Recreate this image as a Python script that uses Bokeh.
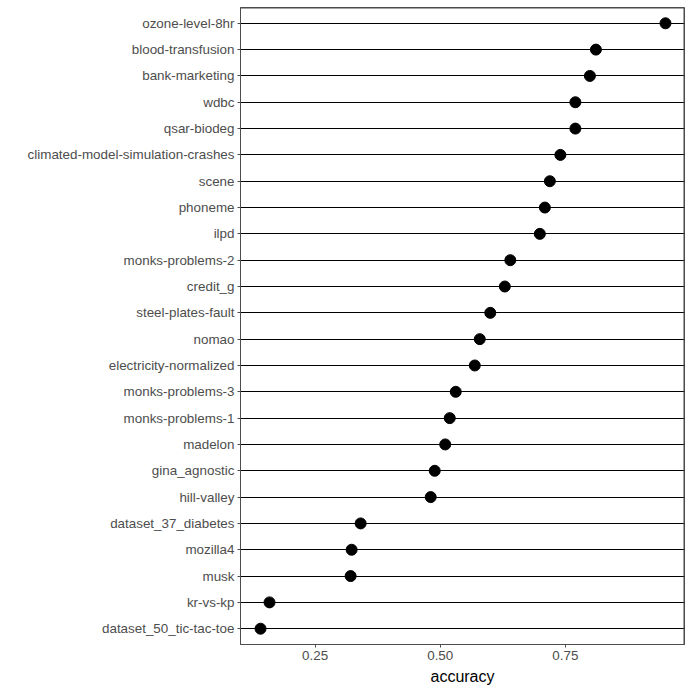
from bokeh.plotting import figure
from bokeh.models import FactorRange, Range1d, FixedTicker
from bokeh.embed import file_html
from bokeh.resources import INLINE

datasets = [
    "ozone-level-8hr", "blood-transfusion", "bank-marketing", "wdbc", "qsar-biodeg",
    "climated-model-simulation-crashes", "scene", "phoneme", "ilpd", "monks-problems-2",
    "credit_g", "steel-plates-fault", "nomao", "electricity-normalized", "monks-problems-3",
    "monks-problems-1", "madelon", "gina_agnostic", "hill-valley", "dataset_37_diabetes",
    "mozilla4", "musk", "kr-vs-kp", "dataset_50_tic-tac-toe",
]
accuracy = [
    0.950, 0.811, 0.799, 0.770, 0.770,
    0.740, 0.719, 0.709, 0.699, 0.640,
    0.629, 0.600, 0.579, 0.569, 0.531,
    0.519, 0.510, 0.489, 0.481, 0.341,
    0.323, 0.321, 0.159, 0.141,
]
x_ticks = [0.25, 0.50, 0.75]
x_tick_labels = ["0.25", "0.50", "0.75"]

factors = list(reversed(datasets))
n = len(factors)

xmin = min(accuracy) - 0.04
xmax = max(accuracy) + 0.038
pad = 0.2  # total categorical padding (synthetic units)

BORDER = "#4d4d4d"

p = figure(
    width=692, height=692,
    y_range=FactorRange(factors=factors, range_padding=pad / n),
    x_range=Range1d(xmin, xmax),
    output_backend="svg", toolbar_location=None,
    min_border_left=240, min_border_right=8, min_border_top=7, min_border_bottom=48,
)
p.background_fill_color = "white"
p.border_fill_color = "white"
p.outline_line_color = BORDER
p.outline_line_width = 1

p.xgrid.grid_line_color = None
p.ygrid.grid_line_color = "black"
p.ygrid.grid_line_width = 1

# top and right panel border, drawn at the ranges' far edges (nudged half a pixel inward)
y_bottom = -pad / 2
y_top = n + pad / 2
x_edge = xmax - 0.001
y_edge = y_top - 0.02
p.segment(x0=[x_edge, xmin], y0=[y_bottom, y_edge],
          x1=[x_edge, xmax], y1=[y_top, y_edge],
          line_color=BORDER, line_width=1)

p.scatter(x=accuracy, y=datasets, size=11, color="black")

p.xaxis.ticker = FixedTicker(ticks=x_ticks)
p.xaxis.major_label_overrides = {t: l for t, l in zip(x_ticks, x_tick_labels)}
p.xaxis.axis_label = "accuracy"
p.xaxis.axis_label_text_font = "Liberation Sans"
p.xaxis.axis_label_text_font_style = "normal"
p.xaxis.axis_label_text_font_size = "16px"
p.xaxis.axis_label_text_color = "black"
p.xaxis.axis_label_standoff = 5

for ax in (p.xaxis, p.yaxis):
    ax.axis_line_color = BORDER
    ax.major_tick_line_color = BORDER
    ax.major_tick_out = 3
    ax.major_tick_in = 0
    ax.minor_tick_line_color = None
    ax.major_label_text_font = "Liberation Sans"
    ax.major_label_text_font_size = "13.4px"
    ax.major_label_text_color = "#4D4D4D"
    ax.major_label_standoff = 3

open("out.html", "w").write(file_html(p, INLINE))
